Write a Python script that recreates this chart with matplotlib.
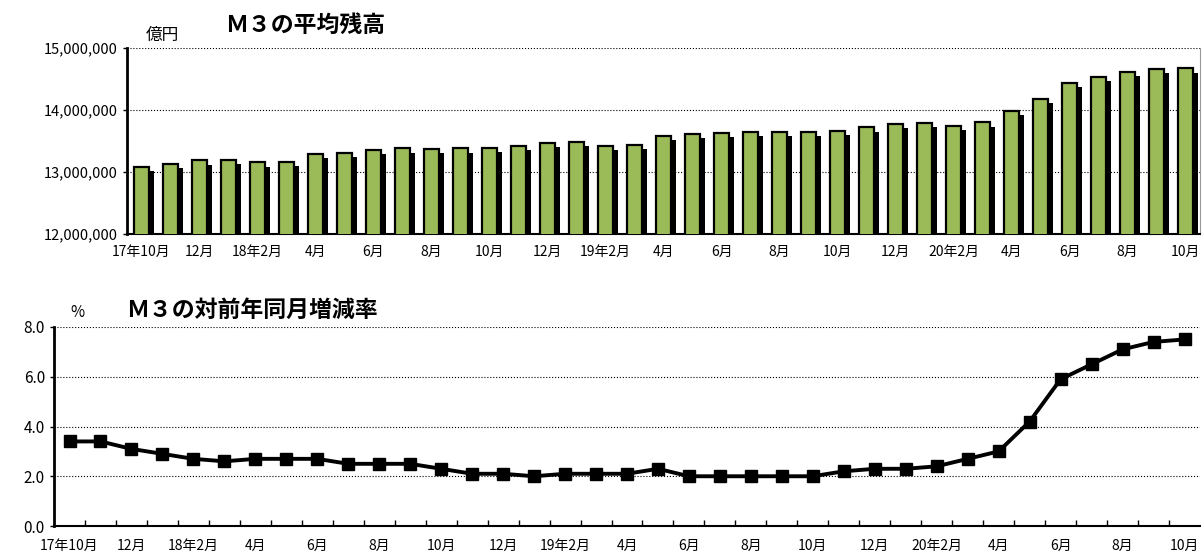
import numpy as np
import matplotlib
matplotlib.use("Agg")
import matplotlib.pyplot as plt
import matplotlib.patheffects as pe
from matplotlib.ticker import FuncFormatter

plt.rcParams['font.family'] = ['Noto Sans CJK JP', 'DejaVu Sans']

# 17年10月 ～ 20年10月 (37か月)
tick_labels = ['17年10月', '12月', '18年2月', '4月', '6月', '8月', '10月', '12月',
               '19年2月', '4月', '6月', '8月', '10月', '12月', '20年2月', '4月',
               '6月', '8月', '10月']

# M3 平均残高 (億円)
m3_zandaka = [13082000, 13137000, 13186000, 13200000, 13155000, 13165000,
              13290000, 13310000, 13360000, 13380000, 13370000, 13380000,
              13390000, 13420000, 13475000, 13485000, 13425000, 13440000,
              13580000, 13620000, 13635000, 13650000, 13645000, 13650000,
              13660000, 13720000, 13775000, 13790000, 13750000, 13800000,
              13985000, 14175000, 14440000, 14530000, 14610000, 14660000,
              14670000]

# M3 対前年同月増減率 (%)
m3_zougen = [3.4, 3.4, 3.1, 2.9, 2.7, 2.6, 2.7, 2.7, 2.7, 2.5, 2.5, 2.5,
             2.3, 2.1, 2.1, 2.0, 2.1, 2.1, 2.1, 2.3, 2.0, 2.0, 2.0, 2.0,
             2.0, 2.2, 2.3, 2.3, 2.4, 2.7, 3.0, 4.2, 5.9, 6.5, 7.1, 7.4, 7.5]

x = np.arange(len(m3_zandaka))
xt = x[::2]

fig = plt.figure(figsize=(12.03, 5.53), dpi=100)

# ---- 上段: 平均残高 ----
ax1 = fig.add_axes([0.1056, 0.5768, 0.892, 0.3364])
bars = ax1.bar(x, m3_zandaka, width=0.5, color='#9BBB59', edgecolor='black',
               linewidth=1.6, zorder=3)
for b in bars:
    b.set_path_effects([pe.SimplePatchShadow(offset=(3.8, -3), shadow_rgbFace='black', alpha=1.0),
                        pe.Normal()])
ax1.set_ylim(12000000, 15000000)
ax1.set_xlim(-0.5, len(x) - 0.5)
ax1.set_yticks([12000000, 13000000, 14000000, 15000000])
ax1.yaxis.set_major_formatter(FuncFormatter(lambda v, p: f'{int(v):,}'))
ax1.set_xticks(xt)
ax1.set_xticklabels(tick_labels, fontsize=10)
ax1.tick_params(axis='x', length=0, pad=8)
ax1.tick_params(axis='y', labelsize=10.5, length=3, width=1)
ax1.grid(axis='y', linestyle=':', color='black', linewidth=0.8, zorder=0)
ax1.spines['left'].set_linewidth(2)
ax1.spines['bottom'].set_linewidth(1.5)
ax1.spines['top'].set_visible(False)
ax1.spines['right'].set_color('#999999')
ax1.spines['right'].set_linewidth(0.8)
fig.text(0.1347, 0.935, '億円', fontsize=12, ha='center', va='center')
fig.text(0.254, 0.955, 'Ｍ３の平均残高', fontsize=16.5, fontweight='bold',
         ha='center', va='center')

# ---- 下段: 対前年同月増減率 ----
ax2 = fig.add_axes([0.0449, 0.0488, 0.9526, 0.3599])
ax2.plot(x, m3_zougen, color='black', linewidth=2.8, marker='s',
         markersize=9, zorder=3)
ax2.set_ylim(0, 8)
ax2.set_xlim(-0.5, len(x) - 0.5)
ax2.set_yticks([0, 2, 4, 6, 8])
ax2.yaxis.set_major_formatter(FuncFormatter(lambda v, p: f'{v:.1f}'))
ax2.set_xticks(xt)
ax2.set_xticklabels(tick_labels, fontsize=10)
ax2.set_xticks(np.arange(0.5, len(x) - 0.5, 1), minor=True)
ax2.tick_params(axis='x', which='major', length=0, pad=9)
ax2.tick_params(axis='x', which='minor', direction='in', length=4, width=1)
ax2.tick_params(axis='y', labelsize=11, length=3, width=1)
ax2.grid(axis='y', linestyle=':', color='black', linewidth=0.8, zorder=0)
ax2.spines['left'].set_linewidth(2)
ax2.spines['bottom'].set_linewidth(1.5)
ax2.spines['top'].set_visible(False)
ax2.spines['right'].set_visible(False)
fig.text(0.064, 0.4358, '%', fontsize=11, ha='center', va='center')
fig.text(0.2095, 0.4394, 'Ｍ３の対前年同月増減率', fontsize=16.5, fontweight='bold',
         ha='center', va='center')

fig.savefig('out.png', dpi=100)
